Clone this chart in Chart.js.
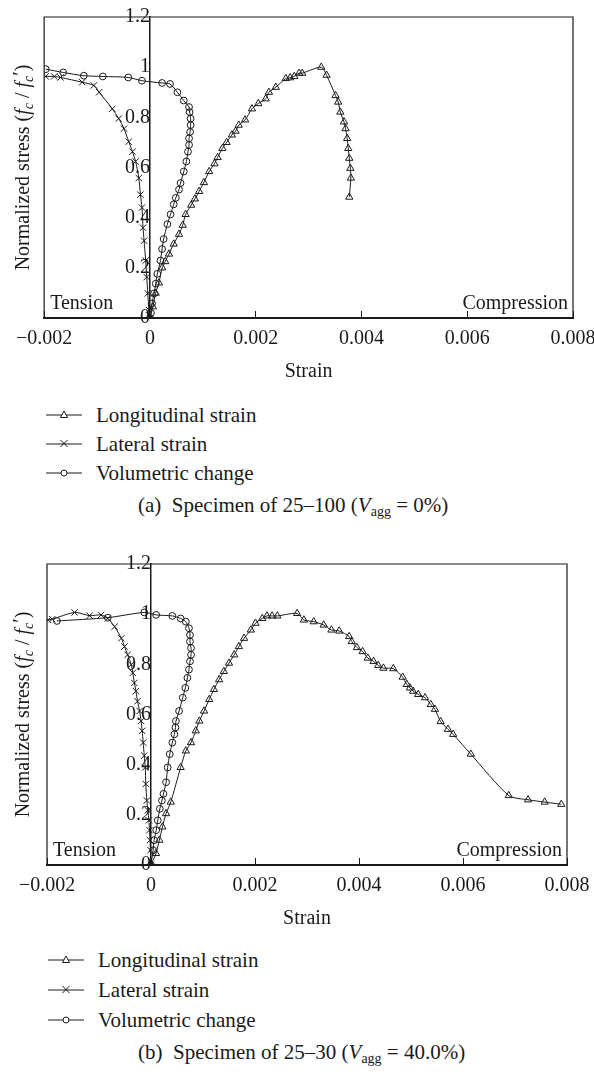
<!DOCTYPE html>
<html><head><meta charset="utf-8">
<script src="https://cdn.jsdelivr.net/npm/chart.js@4.4.1/dist/chart.umd.min.js"></script>
<style>
html,body{margin:0;padding:0;overflow:hidden;background:#fff;}
#wrap{position:relative;width:594px;height:1077px;overflow:hidden;font-family:"Liberation Serif","Times New Roman",serif;color:#1a1a1a;}
canvas{position:absolute;left:0;}
.leg{position:absolute;font-size:21px;line-height:24px;white-space:nowrap;}
.leg svg{position:absolute;left:-50px;top:5px;}
.cap{position:absolute;font-size:21px;line-height:24px;white-space:nowrap;}
.cap sub{font-size:14px;vertical-align:-4px;line-height:0;}
</style></head>
<body><div id="wrap">
<canvas id="ca" width="620" height="400" style="top:0px"></canvas>
<canvas id="cb" width="620" height="400" style="top:547px"></canvas>
<div id="legA"></div><div id="legB"></div>
<div class="cap" style="left:138px;top:493px">(a)&ensp;Specimen of 25–100 (<i>V</i><sub>agg</sub> = 0%)</div>
<div class="cap" style="left:138px;top:1040px">(b)&ensp;Specimen of 25–30 (<i>V</i><sub>agg</sub> = 40.0%)</div>
</div>
<script>
// ---------- DATA ----------
const seriesNames = ['Longitudinal strain', 'Lateral strain', 'Volumetric change'];
const xRange = [-0.002, 0.008];
const yRange = [0, 1.2];
const xStep = 0.002;
const yStep = 0.2;
const xTitle = 'Strain';
const cornerLabels = ['Tension', 'Compression'];

// (a) Specimen 25-100
const longA_strain = [0, 0.000057, 0.000108, 0.00017, 0.000233, 0.00029, 0.00036, 0.00045, 0.00055, 0.00062, 0.000675, 0.00078, 0.00085, 0.00093, 0.00102, 0.00112, 0.00122, 0.00128, 0.00137, 0.00145, 0.00155, 0.00162, 0.00168, 0.0018, 0.00193, 0.00205, 0.00219, 0.00225, 0.00238, 0.00257, 0.00265, 0.00273, 0.00282, 0.00288, 0.00324, 0.00334, 0.00351, 0.00356, 0.0036, 0.00367, 0.0037, 0.00373, 0.00375, 0.00377, 0.00379, 0.0038, 0.00377];
const longA_stress = [0, 0.045, 0.099, 0.14, 0.2, 0.225, 0.255, 0.295, 0.334, 0.37, 0.413, 0.45, 0.475, 0.505, 0.54, 0.584, 0.615, 0.64, 0.676, 0.70, 0.73, 0.745, 0.769, 0.79, 0.834, 0.855, 0.874, 0.90, 0.92, 0.955, 0.958, 0.963, 0.976, 0.976, 1.0, 0.968, 0.887, 0.861, 0.821, 0.782, 0.755, 0.716, 0.676, 0.637, 0.597, 0.558, 0.482];
const latA_strain = [0, -0.00002, -0.00004, -0.00006, -0.00008, -0.00011, -0.00013, -0.00015, -0.00018, -0.00021, -0.00027, -0.00033, -0.0004, -0.00049, -0.00059, -0.00071, -0.00096, -0.00106, -0.00128, -0.00169, -0.00181, -0.00197];
const latA_stress = [0, 0.032, 0.098, 0.163, 0.229, 0.308, 0.36, 0.44, 0.492, 0.558, 0.624, 0.663, 0.703, 0.755, 0.795, 0.834, 0.90, 0.927, 0.94, 0.959, 0.963, 0.963];
const volA_strain = [0, 0.00002, 0.00004, 0.00008, 0.00011, 0.00014, 0.0002, 0.00023, 0.00026, 0.00033, 0.00039, 0.00045, 0.00049, 0.00055, 0.00058, 0.00064, 0.00069, 0.00072, 0.00074, 0.00074, 0.00076, 0.00077, 0.00077, 0.00075, 0.00074, 0.00064, 0.00052, 0.00038, 0.00023, -0.00015, -0.00041, -0.00089, -0.00125, -0.00164, -0.00197];
const volA_stress = [0, 0.02, 0.058, 0.098, 0.137, 0.176, 0.229, 0.275, 0.315, 0.374, 0.413, 0.453, 0.479, 0.512, 0.538, 0.584, 0.624, 0.663, 0.69, 0.716, 0.742, 0.769, 0.795, 0.821, 0.841, 0.867, 0.90, 0.933, 0.937, 0.946, 0.959, 0.963, 0.966, 0.979, 0.992];

// (b) Specimen 25-30
const longB_strain = [0, 0.000096, 0.00016, 0.00022, 0.00029, 0.00038, 0.00057, 0.00067, 0.00077, 0.00086, 0.00093, 0.00102, 0.00112, 0.00121, 0.00131, 0.0014, 0.0015, 0.0016, 0.00169, 0.00179, 0.00192, 0.00201, 0.00214, 0.00223, 0.00233, 0.00243, 0.00281, 0.00294, 0.00313, 0.00332, 0.00347, 0.00362, 0.00381, 0.00386, 0.00396, 0.00407, 0.00417, 0.00428, 0.00437, 0.00447, 0.00466, 0.00484, 0.00492, 0.00498, 0.00504, 0.00514, 0.00527, 0.00538, 0.00546, 0.00557, 0.00571, 0.00581, 0.00615, 0.00688, 0.00725, 0.00757, 0.00789];
const longB_stress = [0, 0.046, 0.099, 0.152, 0.205, 0.251, 0.389, 0.455, 0.488, 0.535, 0.574, 0.614, 0.66, 0.70, 0.739, 0.772, 0.805, 0.838, 0.871, 0.904, 0.937, 0.964, 0.983, 0.993, 0.993, 0.993, 1.003, 0.977, 0.97, 0.957, 0.937, 0.933, 0.911, 0.891, 0.867, 0.851, 0.825, 0.812, 0.796, 0.785, 0.783, 0.749, 0.72, 0.706, 0.693, 0.68, 0.667, 0.64, 0.621, 0.572, 0.541, 0.521, 0.442, 0.277, 0.26, 0.251, 0.242];
const latB_strain = [0, -0.00001, -0.00002, -0.00003, -0.00004, -0.00006, -0.00008, -0.0001, -0.00011, -0.00013, -0.00015, -0.00017, -0.00019, -0.00022, -0.00026, -0.00029, -0.00032, -0.00035, -0.00038, -0.00045, -0.00051, -0.00057, -0.0007, -0.00083, -0.00096, -0.00118, -0.00147, -0.0019, -0.00198];
const latB_stress = [0, 0.059, 0.099, 0.139, 0.178, 0.218, 0.257, 0.323, 0.389, 0.436, 0.488, 0.535, 0.574, 0.614, 0.653, 0.693, 0.726, 0.766, 0.799, 0.838, 0.871, 0.904, 0.95, 0.983, 0.997, 0.994, 1.007, 0.98, 0.977];
const volB_strain = [0, 0.00004, 0.00006, 0.0001, 0.00013, 0.00017, 0.00021, 0.00024, 0.00029, 0.00032, 0.00036, 0.00041, 0.00045, 0.00047, 0.00048, 0.00054, 0.00061, 0.00066, 0.0007, 0.00073, 0.00075, 0.00077, 0.00077, 0.00075, 0.00075, 0.00073, 0.00067, 0.00057, 0.00041, 0.0001, -0.00013, -0.00083, -0.00181];
const volB_stress = [0, 0.059, 0.099, 0.139, 0.178, 0.224, 0.257, 0.284, 0.33, 0.389, 0.442, 0.488, 0.521, 0.548, 0.574, 0.614, 0.667, 0.706, 0.746, 0.779, 0.812, 0.838, 0.865, 0.891, 0.917, 0.944, 0.97, 0.983, 0.993, 0.997, 1.007, 0.986, 0.973];

// ---------- RENDER ----------
const INK = '#1a1a1a';
const FONT = '"Liberation Serif", "Times New Roman", serif';
Chart.defaults.font.family = FONT;
Chart.defaults.font.size = 20;
Chart.defaults.color = INK;

const zip = (xs, ys) => xs.map((x, i) => ({x: x, y: ys[i]}));
const styles = [
  {pointStyle: 'triangle', pointRadius: 4.2},
  {pointStyle: 'crossRot', pointRadius: 4.5},
  {pointStyle: 'circle', pointRadius: 3.4}
];

const framePlugin = {
  id: 'frame',
  afterDraw(chart) {
    const {ctx, chartArea: a} = chart;
    ctx.save();
    ctx.strokeStyle = INK; ctx.lineWidth = 1.2;
    ctx.beginPath();
    ctx.moveTo(a.left, a.bottom); ctx.lineTo(a.left, a.top);
    ctx.lineTo(a.right, a.top); ctx.lineTo(a.right, a.bottom);
    ctx.stroke();
    // corner labels
    ctx.fillStyle = INK;
    ctx.font = '20px ' + FONT;
    ctx.textBaseline = 'alphabetic';
    ctx.textAlign = 'left';
    ctx.fillText(cornerLabels[0], a.left + 6, a.bottom - 9);
    ctx.textAlign = 'right';
    ctx.fillText(cornerLabels[1], a.right - 5, a.bottom - 9);
    // y-axis title with italic / subscripts
    const segs = [
      ['Normalized stress (', '20px ', 0],
      ['f', 'italic 20px ', 0],
      ['c', 'italic 14px ', 4],
      [' / ', '20px ', 0],
      ['f', 'italic 20px ', 0],
      ['c', 'italic 14px ', 4],
      ['\u2032', '20px ', -2],
      [')', '20px ', 0]
    ];
    let total = 0;
    segs.forEach(s => { ctx.font = s[1] + FONT; total += ctx.measureText(s[0]).width; });
    ctx.translate(22, (a.top + a.bottom) / 2);
    ctx.rotate(-Math.PI / 2);
    ctx.textAlign = 'left';
    let x = -total / 2;
    segs.forEach(s => {
      ctx.font = s[1] + FONT;
      ctx.fillText(s[0], x, 7 + s[2]);
      x += ctx.measureText(s[0]).width;
    });
    ctx.restore();
  }
};

function makeChart(id, sets, padTop, padLeft, padRight) {
  const datasets = sets.map((pts, i) => Object.assign({
    label: seriesNames[i],
    data: pts,
    showLine: true,
    borderColor: INK,
    borderWidth: 1,
    pointBorderColor: INK,
    pointBackgroundColor: 'rgba(255,255,255,0)',
    pointBorderWidth: 1,
    tension: 0.25
  }, styles[i]));
  return new Chart(document.getElementById(id), {
    type: 'scatter',
    data: {datasets},
    options: {
      responsive: false,
      maintainAspectRatio: false,
      animation: false,
      devicePixelRatio: 1,
      layout: {padding: {top: padTop, left: padLeft, right: padRight, bottom: 0}},
      plugins: {legend: {display: false}, tooltip: {enabled: false}},
      scales: {
        x: {
          type: 'linear', position: 'bottom',
          min: xRange[0], max: xRange[1],
          afterFit: s => { s.height = 82; },
          ticks: {
            stepSize: xStep, padding: 16, maxRotation: 0, color: INK,
            callback: v => Math.abs(v) < 1e-12 ? '0' : v.toFixed(3).replace('-', '\u2212')
          },
          grid: {display: true, drawOnChartArea: false, drawTicks: true, tickLength: -7, color: INK, lineWidth: 1},
          border: {display: true, color: INK, width: 2},
          title: {display: true, text: xTitle, color: INK, padding: {top: 0, bottom: 16}, font: {size: 20}}
        },
        y: {
          type: 'linear', position: {x: 0},
          min: yRange[0], max: yRange[1],
          ticks: {stepSize: yStep, padding: 5, color: INK,
            callback: v => String(parseFloat(v.toFixed(1)))},
          grid: {display: true, drawOnChartArea: false, drawTicks: false},
          border: {display: true, color: INK, width: 1.5},
          title: {display: false}
        }
      }
    },
    plugins: [framePlugin]
  });
}

makeChart('ca', [zip(longA_strain, longA_stress), zip(latA_strain, latA_stress), zip(volA_strain, volA_stress)], 14, 44, 47);
makeChart('cb', [zip(longB_strain, longB_stress), zip(latB_strain, latB_stress), zip(volB_strain, volB_stress)], 15, 47, 53);

// legends
const icons = [
  '<polygon points="18,3 21.5,9.5 14.5,9.5" fill="#fff" stroke="#1a1a1a" stroke-width="1"/>',
  '<path d="M14.5,3 L21.5,10 M21.5,3 L14.5,10" stroke="#1a1a1a" stroke-width="1"/>',
  '<circle cx="18" cy="7" r="3" fill="#fff" stroke="#1a1a1a" stroke-width="1"/>'
];
function makeLegend(elId, left, tops) {
  const el = document.getElementById(elId);
  seriesNames.forEach((name, i) => {
    const d = document.createElement('div');
    d.className = 'leg';
    d.style.left = left + 'px';
    d.style.top = tops[i] + 'px';
    d.innerHTML = '<svg width="36" height="14" viewBox="0 0 36 14"><line x1="0" y1="7" x2="36" y2="7" stroke="#1a1a1a" stroke-width="1"/>' + icons[i] + '</svg>' + name;
    el.appendChild(d);
  });
}
makeLegend('legA', 96, [403, 432, 461]);
makeLegend('legB', 98, [948, 978, 1008]);
</script>
</body></html>
